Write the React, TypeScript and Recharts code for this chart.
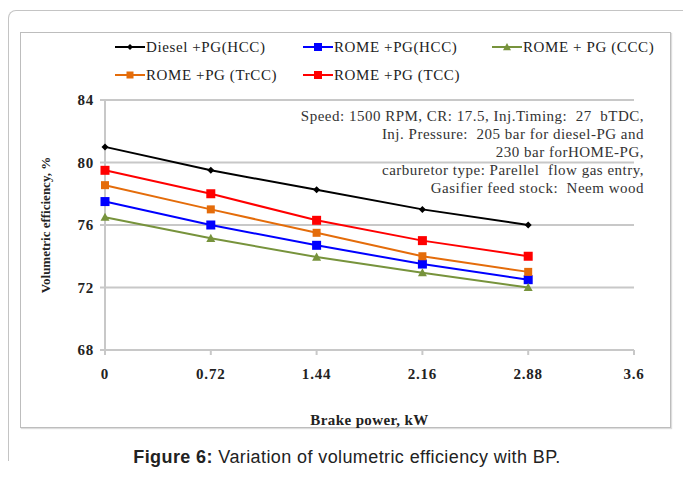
import { LineChart, Line, XAxis, YAxis, CartesianGrid, Legend } from "recharts"

const power = [0, 0.72, 1.44, 2.16, 2.88]
const dieselHcc = [81, 79.5, 78.25, 77, 76]
const romeHcc = [77.5, 76, 74.7, 73.5, 72.5]
const romeCcc = [76.5, 75.15, 73.95, 72.95, 72]
const romeTrcc = [78.55, 77, 75.5, 74, 73]
const romeTcc = [79.5, 78, 76.3, 75, 74]

const xTicks = [0, 0.72, 1.44, 2.16, 2.88, 3.6]
const yTicks = [68, 72, 76, 80, 84]

const notes = [
  "Speed: 1500 RPM, CR: 17.5, Inj.Timing:  27  bTDC,",
  "Inj. Pressure:  205 bar for diesel-PG and",
  "230 bar forHOME-PG,",
  "carburetor type: Parellel  flow gas entry,",
  "Gasifier feed stock:  Neem wood",
]

const series = [
  { key: "dieselHcc", name: "Diesel +PG(HCC)", color: "#000000", shape: "diamond", size: 3.5 },
  { key: "romeHcc", name: "ROME +PG(HCC)", color: "#0000ff", shape: "square", size: 4.5 },
  { key: "romeCcc", name: "ROME + PG (CCC)", color: "#77933c", shape: "triangle", size: 4.5 },
  { key: "romeTrcc", name: "ROME +PG (TrCC)", color: "#e46c0a", shape: "square", size: 4 },
  { key: "romeTcc", name: "ROME +PG (TCC)", color: "#ff0000", shape: "square", size: 4.5 },
]

const data = power.map((p, i) => ({
  power: p,
  dieselHcc: dieselHcc[i],
  romeHcc: romeHcc[i],
  romeCcc: romeCcc[i],
  romeTrcc: romeTrcc[i],
  romeTcc: romeTcc[i],
}))

const serif = "'Liberation Serif', 'Times New Roman', serif"

function Marker({ cx, cy, shape, size, color }: any) {
  if (cx == null || cy == null) return null
  if (shape === "diamond") {
    return (
      <polygon
        points={`${cx},${cy - size} ${cx + size},${cy} ${cx},${cy + size} ${cx - size},${cy}`}
        fill={color}
      />
    )
  }
  if (shape === "triangle") {
    return (
      <polygon
        points={`${cx},${cy - size} ${cx + size},${cy + size * 0.8} ${cx - size},${cy + size * 0.8}`}
        fill={color}
      />
    )
  }
  return <rect x={cx - size} y={cy - size} width={size * 2} height={size * 2} fill={color} />
}

// legend slots: two rows, three columns
const legendSlots = [
  { x: 95, y: 15 },
  { x: 283, y: 15 },
  { x: 472, y: 15 },
  { x: 95, y: 43 },
  { x: 283, y: 43 },
]

function ChartLegend() {
  return (
    <div style={{ position: "relative", width: 651, height: 60 }}>
      {series.map((s, i) => (
        <div
          key={s.key}
          style={{
            position: "absolute",
            left: legendSlots[i].x,
            top: legendSlots[i].y - 9,
            height: 18,
            display: "flex",
            alignItems: "center",
            fontFamily: serif,
            fontSize: 15,
            letterSpacing: 0.6,
            color: "#222",
            whiteSpace: "nowrap",
          }}
        >
          <svg width={30} height={18} style={{ marginRight: 1 }}>
            <line x1={0} y1={9} x2={30} y2={9} stroke={s.color} strokeWidth={2} />
            <Marker cx={15} cy={9} shape={s.shape} size={s.size - 0.5} color={s.color} />
          </svg>
          {s.name}
        </div>
      ))}
    </div>
  )
}

function YTitle({ viewBox }: any) {
  const x = viewBox.x + 20
  const y = viewBox.y + viewBox.height / 2
  return (
    <text
      x={x}
      y={y}
      transform={`rotate(-90 ${x} ${y})`}
      textAnchor="middle"
      dominantBaseline="central"
      fill="#222"
      fontSize={13}
      fontWeight="bold"
    >
      Volumetric efficiency, %
    </text>
  )
}

const tickStyle = { fill: "#222", fontSize: 15, fontWeight: "bold", letterSpacing: 0.8 }

export default function App() {
  return (
    <div
      style={{
        position: "absolute",
        left: 0,
        top: 0,
        width: 683,
        height: 484,
        background: "#fff",
        overflow: "hidden",
      }}
    >
      <div
        style={{
          position: "absolute",
          left: 8,
          top: 10,
          width: 720,
          height: 450,
          border: "1px solid #c4c4c4",
          borderBottom: "none",
          borderTopLeftRadius: 8,
        }}
      />
      <div
        style={{
          position: "absolute",
          left: 20,
          top: 32,
          width: 649,
          height: 394,
          border: "1px solid #bdbdbd",
          boxShadow: "1px 1px 1px #ddd",
        }}
      >
        <div style={{ position: "absolute", left: -1, top: -1 }}>
          <LineChart
            width={651}
            height={396}
            data={data}
            margin={{ top: 68, right: 37, left: 5, bottom: 5 }}
            style={{ fontFamily: serif }}
          >
            <CartesianGrid vertical={false} stroke="#c8c8c8" strokeWidth={2} />
            <XAxis
              dataKey="power"
              type="number"
              domain={[0, 3.6]}
              ticks={xTicks}
              height={73}
              stroke="#c8c8c8"
              strokeWidth={2}
              tickSize={5}
              tickMargin={13}
              tick={tickStyle}
              label={{
                value: "Brake power, kW",
                position: "insideBottom",
                offset: -2,
                fill: "#222",
                fontSize: 15,
                letterSpacing: 0.4,
                fontWeight: "bold",
              }}
            />
            <YAxis
              type="number"
              domain={[68, 84]}
              ticks={yTicks}
              width={80}
              stroke="#c8c8c8"
              strokeWidth={2}
              tickSize={5}
              tickMargin={6}
              tick={tickStyle}
              label={(props: any) => <YTitle {...props} />}
            />
            <Legend
              layout="horizontal"
              verticalAlign="middle"
              align="center"
              wrapperStyle={{ position: "absolute", left: 0, top: 0, width: 651, height: 60 }}
              content={() => <ChartLegend />}
            />
            {series.map((s) => (
              <Line
                key={s.key}
                dataKey={s.key}
                name={s.name}
                type="linear"
                stroke={s.color}
                strokeWidth={2}
                isAnimationActive={false}
                dot={(p: any) => (
                  <Marker
                    key={`${s.key}-${p.index}`}
                    cx={p.cx}
                    cy={p.cy}
                    shape={s.shape}
                    size={s.size}
                    color={s.color}
                  />
                )}
                activeDot={false}
              />
            ))}
          </LineChart>
        </div>
        <div
          style={{
            position: "absolute",
            right: 26,
            top: 74,
            textAlign: "right",
            fontFamily: serif,
            fontSize: 15,
            letterSpacing: 0.5,
            lineHeight: "18px",
            color: "#333",
            whiteSpace: "pre",
          }}
        >
          {notes.map((n) => (
            <div key={n}>{n}</div>
          ))}
        </div>
      </div>
      <div
        style={{
          position: "absolute",
          left: 0,
          width: 694,
          top: 447,
          textAlign: "center",
          fontFamily: "'Liberation Sans', Arial, sans-serif",
          fontSize: 18,
          letterSpacing: 0.4,
          color: "#222",
        }}
      >
        <b>Figure 6:</b> Variation of volumetric efficiency with BP.
      </div>
    </div>
  )
}
